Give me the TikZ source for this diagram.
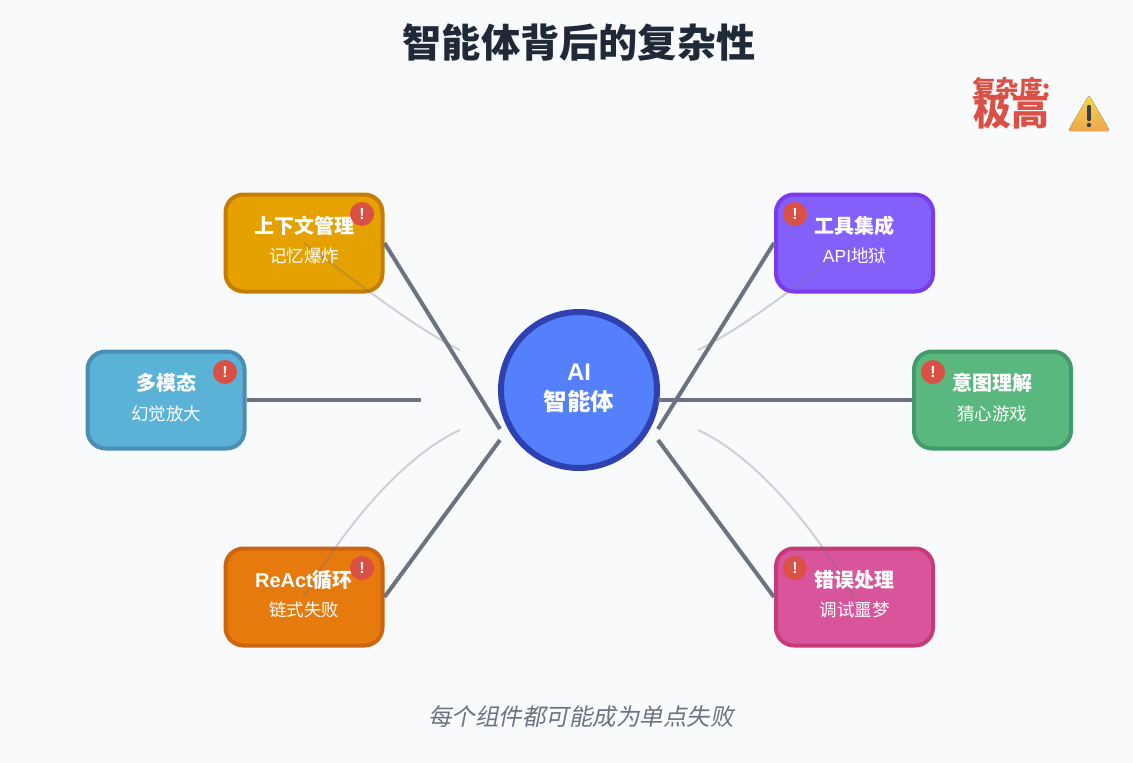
\documentclass[tikz,border=0pt]{standalone}
\usepackage{fontspec}
\setmainfont{Liberation Sans}
\newfontfamily\cjk{Noto Sans CJK SC}
\newfontfamily\cjkit[FakeSlant=0.2]{Noto Sans CJK SC}
\usetikzlibrary{calc}
\definecolor{bgc}{HTML}{F9FAFC}
\definecolor{ttl}{HTML}{1F2937}
\definecolor{lnc}{HTML}{6B7280}
\definecolor{redc}{HTML}{DB5044}
\definecolor{subc}{HTML}{6B7280}
\definecolor{ya}{HTML}{E5A100}\definecolor{yb}{HTML}{C77D05}
\definecolor{ba}{HTML}{5AB2D6}\definecolor{bb}{HTML}{4A8DB5}
\definecolor{oa}{HTML}{E67A0C}\definecolor{ob}{HTML}{CC6410}
\definecolor{pa}{HTML}{8460FB}\definecolor{pb}{HTML}{7C3AED}
\definecolor{ga}{HTML}{5AB77E}\definecolor{gb}{HTML}{459A6B}
\definecolor{ma}{HTML}{D9559B}\definecolor{mb}{HTML}{C73A79}
\definecolor{ca}{HTML}{5580FB}\definecolor{cb}{HTML}{2F40B0}
\definecolor{wa}{HTML}{F9D548}\definecolor{wb}{HTML}{EFA64E}
\tikzset{
  x=1pt,y=-1pt,
  card/.style={draw,line width=4pt,rounded corners=18pt,minimum width=157pt,minimum height=97pt,inner sep=0pt},
  hub/.style={circle,draw=cb,fill=ca,line width=6pt,minimum size=156pt,inner sep=0pt},
  mainline/.style={draw=lnc,line width=4pt},
  ghost/.style={draw=lnc,line width=2pt,opacity=.3},
  badge/.style={circle,fill=redc,minimum size=24pt,inner sep=0pt,text=white,font=\fontsize{16}{16}\selectfont\bfseries},
  tt/.style={text=white,inner sep=0pt,font=\fontsize{20}{20}\selectfont\bfseries\cjk},
  st/.style={text=white,inner sep=0pt,font=\fontsize{17.5}{17.5}\selectfont\cjk},
}
\begin{document}
\begin{tikzpicture}
\useasboundingbox[fill=bgc] (0,0) rectangle (1133,763);
% hub
\node[hub] (hub) at (579,390) {};
\node[text=white,inner sep=0pt,font=\fontsize{24}{24}\selectfont\bfseries] (hubA) at (579,372.5) {AI};
\node[text=white,inner sep=0pt,font=\fontsize{23.5}{24}\selectfont\bfseries\cjk] (hubB) at (579,401) {智能体};
% end coordinates
\coordinate (e1) at (500,429);
\coordinate (e2) at (421,400);
\coordinate (e3) at (500,440);
\coordinate (e4) at (658,429);
\coordinate (e5) at (658,400);
\coordinate (e6) at (658,440);
\coordinate (g1) at (460,350);
\coordinate (g3) at (460,430);
\coordinate (g4) at (698,350);
\coordinate (g6) at (698,430);
% cards
\node[card,draw=yb,fill=ya] (ctx) at (304,243) {};
\node[card,draw=bb,fill=ba] (mm) at (166,400) {};
\node[card,draw=ob,fill=oa] (re) at (304,597) {};
\node[card,draw=pb,fill=pa] (tool) at (854.5,243) {};
\node[card,draw=gb,fill=ga] (intent) at (992.5,400) {};
\node[card,draw=mb,fill=ma] (err) at (854.5,597) {};
% connectors
\draw[mainline] (ctx.east) -- (e1);
\draw[mainline] (mm.east) -- (e2);
\draw[mainline] (re.east) -- (e3);
\draw[mainline] (tool.west) -- (e4);
\draw[mainline] (e5) -- (intent.west);
\draw[mainline] (err.west) -- (e6);
% faint curves
\draw[ghost] (ctx.center) .. controls (365,288) and (415,328) .. (g1);
\draw[ghost] (tool.center) .. controls (793,288) and (743,328) .. (g4);
\draw[ghost] (re.center) .. controls (345,525) and (405,455) .. (g3);
\draw[ghost] (err.center) .. controls (813,525) and (753,455) .. (g6);
% card text
\node[tt] (t1) at (304,226) {上下文管理};
\node[st] (s1) at (304,255.5) {记忆爆炸};
\node[tt] (t2) at (166,383) {多模态};
\node[st] (s2) at (166,413.5) {幻觉放大};
\node[tt] (t3) at (304,580) {\bfseries\normalfont\bfseries ReAct\cjk 循环};
\node[st] (s3) at (304,609.5) {链式失败};
\node[tt] (t4) at (854.5,226) {工具集成};
\node[st] (s4) at (854.5,255.5) {\normalfont API\cjk 地狱};
\node[tt] (t5) at (992.5,383) {意图理解};
\node[st] (s5) at (992,413.5) {猜心游戏};
\node[tt] (t6) at (854.5,580) {错误处理};
\node[st] (s6) at (854.5,609.5) {调试噩梦};
% badges
\node[badge] (b1) at (362,214) {!};
\node[badge] (b2) at (225,372) {!};
\node[badge] (b3) at (362,568) {!};
\node[badge] (b4) at (795,214) {!};
\node[badge] (b5) at (933,372) {!};
\node[badge] (b6) at (795,568) {!};
% title and notes
\node[text=ttl,inner sep=0pt,font=\fontsize{39.2}{39}\selectfont\bfseries\cjk] (title) at (579,42) {智能体背后的复杂性};
\node[text=subc,inner sep=0pt,font=\fontsize{23.5}{24}\selectfont\cjkit] (foot) at (581,717) {每个组件都可能成为单点失败};
\node[text=redc,inner sep=0pt,font=\fontsize{23.5}{24}\selectfont\bfseries\cjk] (cx) at (1011.5,88) {复杂度:};
\node[text=redc,inner sep=0pt,font=\fontsize{38}{38}\selectfont\bfseries\cjk] (cy) at (1011.5,111) {极高};
% warning icon
\fill[top color=wa,bottom color=wb,rounded corners=2.5pt] (1089,95) -- (1110,131) -- (1068,131) -- cycle;
\fill[ttl!90,rounded corners=1pt] (1087.2,105) rectangle (1090.8,121);
\fill[ttl!90] (1089,125) circle (2.2pt);
\end{tikzpicture}
\end{document}
